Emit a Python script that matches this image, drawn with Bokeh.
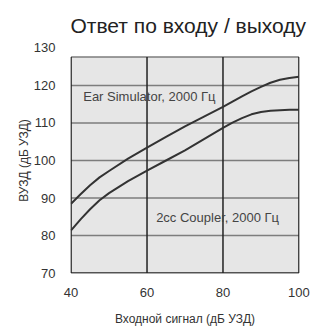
from bokeh.plotting import figure
from bokeh.models import Range1d, FixedTicker, Label
from bokeh.embed import file_html
from bokeh.resources import INLINE

# ---- data ----
x_in = [40, 42.5, 45, 47.5, 50, 55, 60, 65, 70, 75, 80, 82.5, 85, 87.5, 90, 92.5, 95, 97.5, 100]
ear_sim = [88.5, 91.0, 93.4, 95.5, 97.2, 100.5, 103.4, 106.3, 109.1, 111.7, 114.3, 115.7, 117.1, 118.4, 119.6, 120.7, 121.5, 122.0, 122.3]
coupler = [81.4, 84.3, 87.0, 89.4, 91.3, 94.5, 97.3, 100.0, 102.7, 105.7, 108.7, 110.1, 111.3, 112.3, 112.9, 113.25, 113.4, 113.5, 113.5]

x_ticks = [40, 60, 80, 100]
y_ticks = [70, 80, 90, 100, 110, 120, 130]
grid_x = [60, 80]
grid_y = [80, 90, 100, 110, 120]
panel_left, panel_right, panel_bottom, panel_top = 40, 100, 70, 127.6

title_text = "Ответ по входу / выходу"
x_label = "Входной сигнал (дБ УЗД)"
y_label = "ВУЗД (дБ УЗД)"
ear_label = "Ear Simulator, 2000 Гц"
coupler_label = "2cc Coupler, 2000 Гц"
ear_label_pos = (43.2, 117.0)
coupler_label_pos = (62.4, 84.8)

FONT = "Liberation Sans"

p = figure(width=314, height=328, output_backend="svg", toolbar_location=None,
           x_range=Range1d(39.85, 100.15), y_range=Range1d(69.9, 130.1),
           min_border_left=70, min_border_right=15, min_border_top=46, min_border_bottom=55)

p.title.text = title_text
p.title.text_font = FONT
p.title.text_font_size = "21px"
p.title.text_font_style = "normal"
p.title.text_color = "#222222"
p.title.align = "left"
p.title.standoff = 22

p.background_fill_color = "white"
p.border_fill_color = "white"
p.outline_line_color = None
p.xgrid.visible = False
p.ygrid.visible = False

for ax, lab, ticks in ((p.xaxis[0], x_label, x_ticks), (p.yaxis[0], y_label, y_ticks)):
    ax.ticker = FixedTicker(ticks=ticks)
    ax.axis_label = lab
    ax.axis_line_color = None
    ax.major_tick_line_color = None
    ax.minor_tick_line_color = None
    ax.major_label_text_font = FONT
    ax.major_label_text_font_size = "13px"
    ax.major_label_text_color = "#333333"
    ax.axis_label_text_font = FONT
    ax.axis_label_text_font_size = "12px"
    ax.axis_label_text_font_style = "normal"
    ax.axis_label_text_color = "#333333"
p.xaxis[0].major_label_standoff = 8
p.xaxis[0].axis_label_standoff = 12
p.yaxis[0].major_label_standoff = 9
p.yaxis[0].axis_label_standoff = 0

# panel background
p.quad(left=[panel_left], right=[panel_right], bottom=[panel_bottom], top=[panel_top],
       fill_color="#e6e6e6", line_color=None)

# horizontal grid lines (gray) incl. top edge
hy = grid_y + [panel_top]
p.segment(x0=[panel_left] * len(hy), x1=[panel_right] * len(hy), y0=hy, y1=hy,
          line_color="#7d7d7d", line_width=1.5)
# vertical lines (dark) incl. left/right edges
vx = [panel_left] + grid_x + [panel_right]
p.segment(x0=vx, x1=vx, y0=[panel_bottom] * len(vx), y1=[panel_top] * len(vx),
          line_color="#222222", line_width=1.5)
# bottom edge
p.segment(x0=[panel_left], x1=[panel_right], y0=[panel_bottom], y1=[panel_bottom],
          line_color="#222222", line_width=1.5)

p.line(x_in, ear_sim, line_color="#333333", line_width=2)
p.line(x_in, coupler, line_color="#333333", line_width=2)

for txt, (lx, ly) in ((ear_label, ear_label_pos), (coupler_label, coupler_label_pos)):
    p.add_layout(Label(x=lx, y=ly, text=txt, text_font=FONT, text_font_size="13px",
                       text_color="#444444", text_baseline="middle", text_align="left"))

open("out.html", "w").write(file_html(p, INLINE))
